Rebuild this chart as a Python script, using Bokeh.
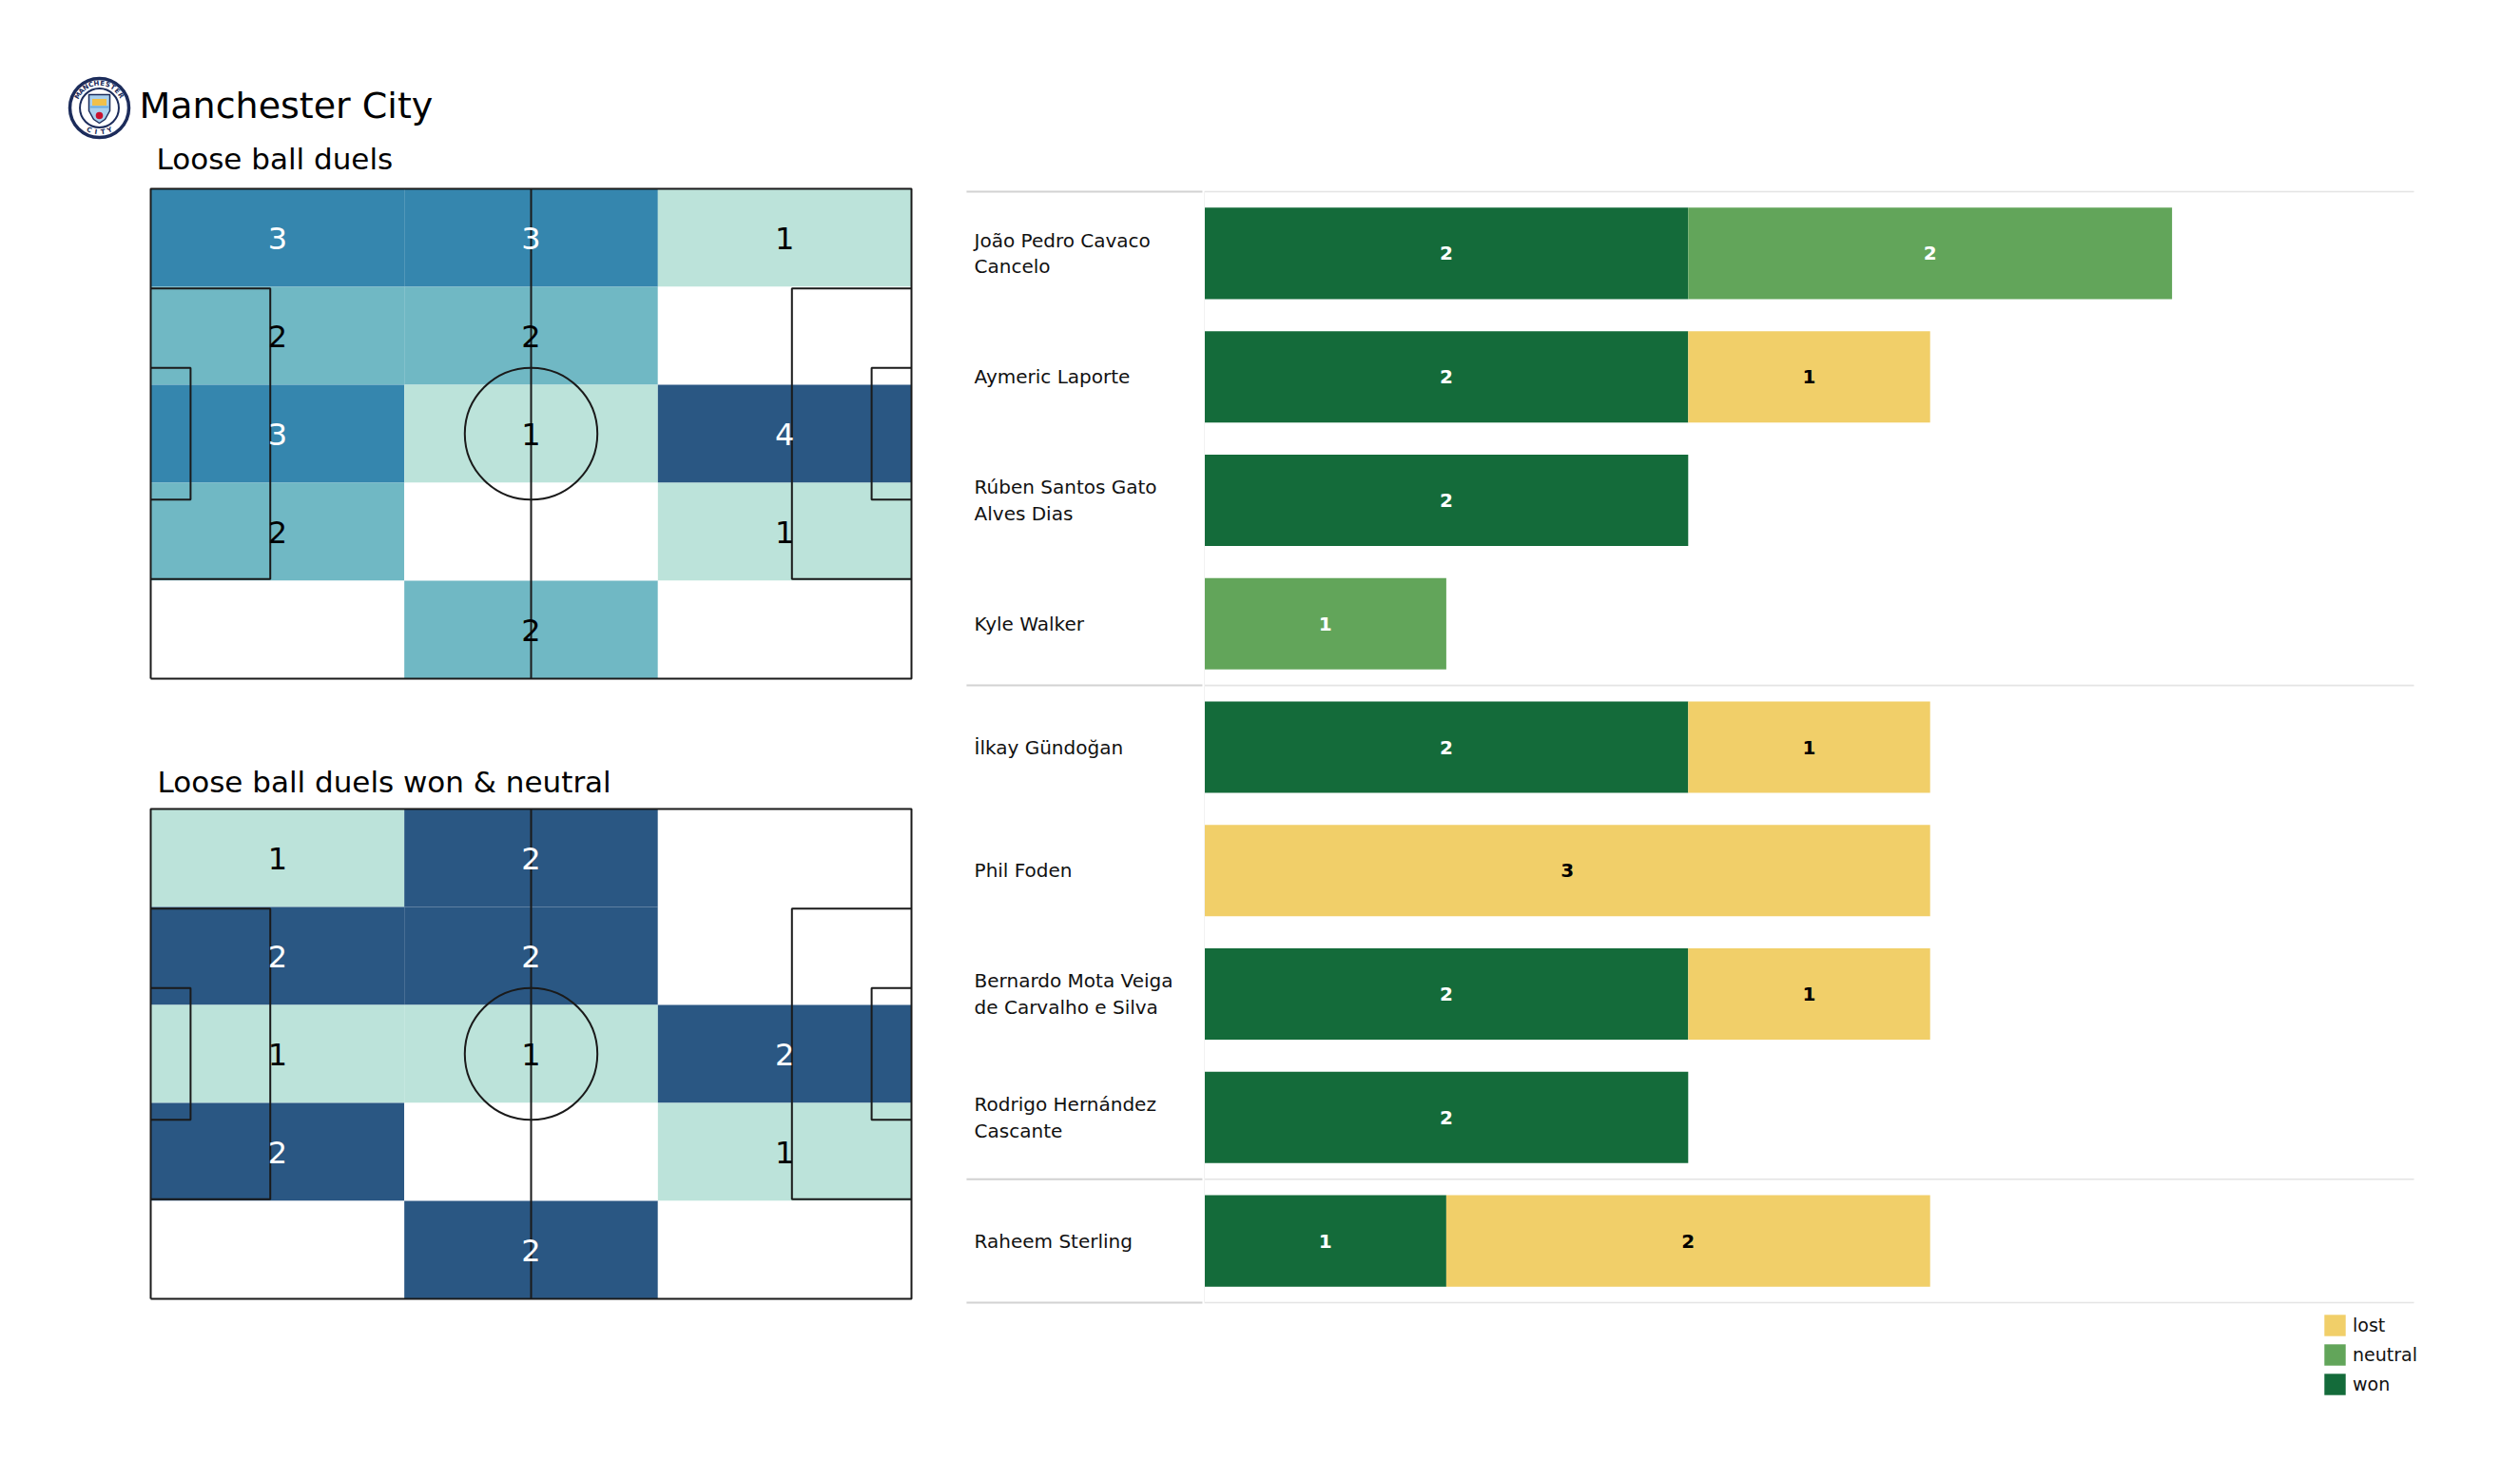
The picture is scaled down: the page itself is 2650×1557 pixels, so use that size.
import math
from bokeh.plotting import figure
from bokeh.layouts import row, column
from bokeh.models import Range1d, ColumnDataSource, Legend, LegendItem
from bokeh.embed import file_html
from bokeh.resources import INLINE
from bokeh.core.properties import value

FONT = "DejaVu Sans"

# ---------------- data ----------------
TEAM = "Manchester City"
TITLE_ALL = "Loose ball duels"
TITLE_WON = "Loose ball duels won & neutral"

# heatmap counts, rows top -> bottom, columns left -> right
duels_all = [[3, 3, 1],
             [2, 2, 0],
             [3, 1, 4],
             [2, 0, 1],
             [0, 2, 0]]
duels_won_neutral = [[1, 2, 0],
                     [2, 2, 0],
                     [1, 1, 2],
                     [2, 0, 1],
                     [0, 2, 0]]
palette_all = ["#ffffff", "#bce3da", "#70b8c4", "#3586ae", "#2a5783"]   # index = count
palette_won = ["#ffffff", "#bce3da", "#2a5783"]
white_text_from_all = 3
white_text_from_won = 2

players = ["João Pedro Cavaco\nCancelo", "Aymeric  Laporte", "Rúben  Santos Gato\nAlves Dias",
           "Kyle Walker", "İlkay Gündoğan", "Phil Foden",
           "Bernardo Mota Veiga\nde Carvalho e Silva", "Rodrigo Hernández\nCascante",
           "Raheem Sterling"]
won = [2, 2, 2, 0, 2, 0, 2, 2, 1]
neutral = [2, 0, 0, 1, 0, 0, 0, 0, 0]
lost = [0, 1, 0, 0, 1, 3, 1, 0, 2]
group_sizes = [4, 4, 1]
outcomes = ["won", "neutral", "lost"]
outcome_colors = ["#146b3a", "#62a55a", "#f1cf69"]
outcome_text_colors = ["white", "white", "black"]
legend_order = ["lost", "neutral", "won"]
X_MAX = 5

# pitch geometry (UEFA 105 x 68)
PITCH_L, PITCH_W = 105.0, 68.0
BOX_L, BOX_W = 16.5, 40.32
SIX_L, SIX_W = 5.5, 18.32
CIRCLE_R = 9.15
N_COLS, N_ROWS = 3, 5

# ---------------- layout sizes (px) ----------------
LEFT_W = 1012
RIGHT_W = 1630
TOTAL_H = 1549
HEADER_H = 194
PITCH1_H, PITCH2_H = 586, 769


def base_fig(width, height, xr, yr, left, right, top, bottom):
    p = figure(width=width, height=height, x_range=xr, y_range=yr,
               output_backend="svg", toolbar_location=None,
               x_axis_location=None, y_axis_location=None,
               min_border_left=left, min_border_right=right,
               min_border_top=top, min_border_bottom=bottom)
    p.grid.visible = False
    p.outline_line_color = None
    p.background_fill_color = "white"
    p.border_fill_color = "white"
    return p


# ---------------- header (1 data unit = 1 px) ----------------
header = base_fig(LEFT_W, HEADER_H, Range1d(0, LEFT_W), Range1d(0, HEADER_H), 0, 0, 0, 0)
header.title.visible = False
LOGO_CX, LOGO_CY, LOGO_R = 104, 81, 31
NAVY = "#1c2c5b"
header.circle(x=[LOGO_CX], y=[LOGO_CY], radius=LOGO_R, fill_color="white",
              line_color=NAVY, line_width=3.5)
header.circle(x=[LOGO_CX], y=[LOGO_CY], radius=LOGO_R * 0.66, fill_color="white",
              line_color=NAVY, line_width=2)
sh_dx = [-11, 11, 11, 6, 0, -6, -11]
sh_dy = [14, 14, -3, -12, -16, -12, -3]
header.patch([LOGO_CX + d for d in sh_dx], [LOGO_CY + d for d in sh_dy],
             fill_color="#a9d0ee", line_color=NAVY, line_width=1.5)
header.rect(x=[LOGO_CX], y=[LOGO_CY + 6], width=15, height=7, fill_color="#f0c04a", line_color=None)
header.rect(x=[LOGO_CX], y=[LOGO_CY + 1], width=21, height=2, fill_color="#6cabdd", line_color=None)
header.circle(x=[LOGO_CX], y=[LOGO_CY - 8], radius=3.8, fill_color="#c8102e", line_color=None)
top_word, bot_word = "MANCHESTER", "CITY"
ring_r = LOGO_R * 0.83
tx, ty, ta = [], [], []
for i, ch in enumerate(top_word):
    th = math.radians(150 - i * (120 / (len(top_word) - 1)))
    tx.append(LOGO_CX + ring_r * math.cos(th)); ty.append(LOGO_CY + ring_r * math.sin(th))
    ta.append(th - math.pi / 2)
header.text(x=tx, y=ty, text=list(top_word), angle=ta, text_font=value(FONT),
            text_font_size="7px", text_font_style="bold", text_color=NAVY,
            text_align="center", text_baseline="middle")
bx, by, ba = [], [], []
for i, ch in enumerate(bot_word):
    th = math.radians(245 + i * (50 / (len(bot_word) - 1)))
    bx.append(LOGO_CX + ring_r * math.cos(th)); by.append(LOGO_CY + ring_r * math.sin(th))
    ba.append(th + math.pi / 2)
header.text(x=bx, y=by, text=list(bot_word), angle=ba, text_font=value(FONT),
            text_font_size="7px", text_font_style="bold", text_color=NAVY,
            text_align="center", text_baseline="middle")
header.text(x=[146], y=[84], text=[TEAM], text_font=value(FONT), text_font_size="38px",
            text_color="black", text_align="left", text_baseline="middle")
header.text(x=[164], y=[28], text=[TITLE_ALL], text_font=value(FONT), text_font_size="31px",
            text_color="black", text_align="left", text_baseline="middle")


# ---------------- pitches ----------------
PITCH_PX_X0, PITCH_PX_W, PITCH_PX_H = 158, 800, 515
FRAME_H = 523


def pitch_fig(grid, palette, white_from, title, height, top, standoff):
    ppx = PITCH_PX_W / PITCH_L
    ppy = PITCH_PX_H / PITCH_W
    x_lo = -PITCH_PX_X0 / ppx
    x_hi = (LEFT_W - PITCH_PX_X0) / ppx
    pady = (FRAME_H - PITCH_PX_H) / 2 / ppy
    p = base_fig(LEFT_W, height, Range1d(x_lo, x_hi), Range1d(-pady, PITCH_W + pady),
                 0, 0, top, height - top - FRAME_H)
    if title:
        p.title.text = title
        p.title.text_font = FONT
        p.title.text_font_size = "31px"
        p.title.text_font_style = "normal"
        p.title.text_color = "black"
        p.title.align = "left"
        p.title.offset = 165
        p.title.standoff = standoff
    else:
        p.title.visible = False

    cw, rh = PITCH_L / N_COLS, PITCH_W / N_ROWS
    L, R, T, B, C, X, Y, S, TC = [], [], [], [], [], [], [], [], []
    for r, rowv in enumerate(grid):
        for c, v in enumerate(rowv):
            L.append(c * cw); R.append((c + 1) * cw)
            T.append(PITCH_W - r * rh); B.append(PITCH_W - (r + 1) * rh)
            C.append(palette[v])
            if v > 0:
                X.append((c + 0.5) * cw); Y.append(PITCH_W - (r + 0.5) * rh)
                S.append(str(v)); TC.append("white" if v >= white_from else "black")
    p.quad(left=L, right=R, top=T, bottom=B, fill_color=C, line_color=None)

    lc, lw = "#1a1a1a", 2
    xs = [[0, PITCH_L, PITCH_L, 0, 0], [PITCH_L / 2, PITCH_L / 2]]
    ys = [[0, 0, PITCH_W, PITCH_W, 0], [0, PITCH_W]]
    for bl, bw in ((BOX_L, BOX_W), (SIX_L, SIX_W)):
        y0, y1 = (PITCH_W - bw) / 2, (PITCH_W + bw) / 2
        xs.append([0, bl, bl, 0]); ys.append([y0, y0, y1, y1])
        xs.append([PITCH_L, PITCH_L - bl, PITCH_L - bl, PITCH_L]); ys.append([y0, y0, y1, y1])
    p.multi_line(xs=xs, ys=ys, line_color=lc, line_width=lw)
    p.ellipse(x=[PITCH_L / 2], y=[PITCH_W / 2], width=2 * CIRCLE_R, height=2 * CIRCLE_R,
              fill_color=None, line_color=lc, line_width=lw)
    p.text(x=X, y=Y, text=S, text_color=TC, text_font=value(FONT), text_font_size="32px",
           text_align="center", text_baseline="middle")
    return p


pitch1 = pitch_fig(duels_all, palette_all, white_text_from_all, None, PITCH1_H, 0, 0)
pitch2 = pitch_fig(duels_won_neutral, palette_won, white_text_from_won, TITLE_WON, PITCH2_H, 66, 14)


# ---------------- stacked bars ----------------
n = len(players)
ppu_x = 254.4
ppu_y = 129.78
BAR_FRAME_W = 1540
BAR_TOP = 188
x_lo = -254.0 / ppu_x
x_hi = x_lo + BAR_FRAME_W / ppu_x
y_top = -0.5 - 13 / ppu_y
y_bot = n - 0.5 + 119 / ppu_y
BAR_FRAME_H = int(round((y_bot - y_top) * ppu_y))
bars = base_fig(RIGHT_W, TOTAL_H, Range1d(x_lo, x_hi), Range1d(y_bot, y_top),
                0, RIGHT_W - BAR_FRAME_W, BAR_TOP, TOTAL_H - BAR_TOP - BAR_FRAME_H)
bars.title.visible = False

ys = list(range(n))
src = ColumnDataSource(dict(y=ys, won=won, neutral=neutral, lost=lost))
rends = bars.hbar_stack(outcomes, y="y", height=0.74, color=outcome_colors,
                        line_color=None, source=src)

# separators
bounds = [-0.5]
for g in group_sizes:
    bounds.append(bounds[-1] + g)
NAME_X0, NAME_X1 = -0.983, -0.008
bars.segment(x0=[NAME_X0] * len(bounds), x1=[NAME_X1] * len(bounds), y0=bounds, y1=bounds,
             line_color="#d2d2d2", line_width=2)
bars.segment(x0=[0] * len(bounds), x1=[X_MAX] * len(bounds), y0=bounds, y1=bounds,
             line_color="#e4e4e4", line_width=1.6)
bars.segment(x0=[0], x1=[0], y0=[bounds[0]], y1=[bounds[-1]], line_color="#f2f2f2", line_width=1)

# value labels
series = [won, neutral, lost]
lx, ly, lt, lcol = [], [], [], []
for i in range(n):
    acc = 0
    for s, tcol in zip(series, outcome_text_colors):
        v = s[i]
        if v > 0:
            lx.append(acc + v / 2); ly.append(i); lt.append(str(v)); lcol.append(tcol)
        acc += v
bars.text(x=lx, y=ly, text=lt, text_color=lcol, text_font=value(FONT),
          text_font_size="20px", text_font_style="bold",
          text_align="center", text_baseline="middle")

# player names
bars.text(x=[-0.951] * n, y=ys, text=players, text_color="#111111", text_font=value(FONT),
          text_font_size="20px", text_align="left", text_baseline="middle",
          text_line_height=1.15)

by_name = dict(zip(outcomes, rends))
legend = Legend(items=[LegendItem(label=k, renderers=[by_name[k]]) for k in legend_order],
                location=(1429, 19), orientation="vertical",
                glyph_width=28, glyph_height=28, label_height=28, label_width=60,
                spacing=3, padding=0, margin=0, label_standoff=5,
                border_line_alpha=0, background_fill_alpha=0,
                label_text_font=FONT, label_text_font_size="19px", label_text_color="#111111")
bars.add_layout(legend)

layout = row(column(header, pitch1, pitch2), bars)
open("out.html", "w").write(file_html(layout, INLINE))
